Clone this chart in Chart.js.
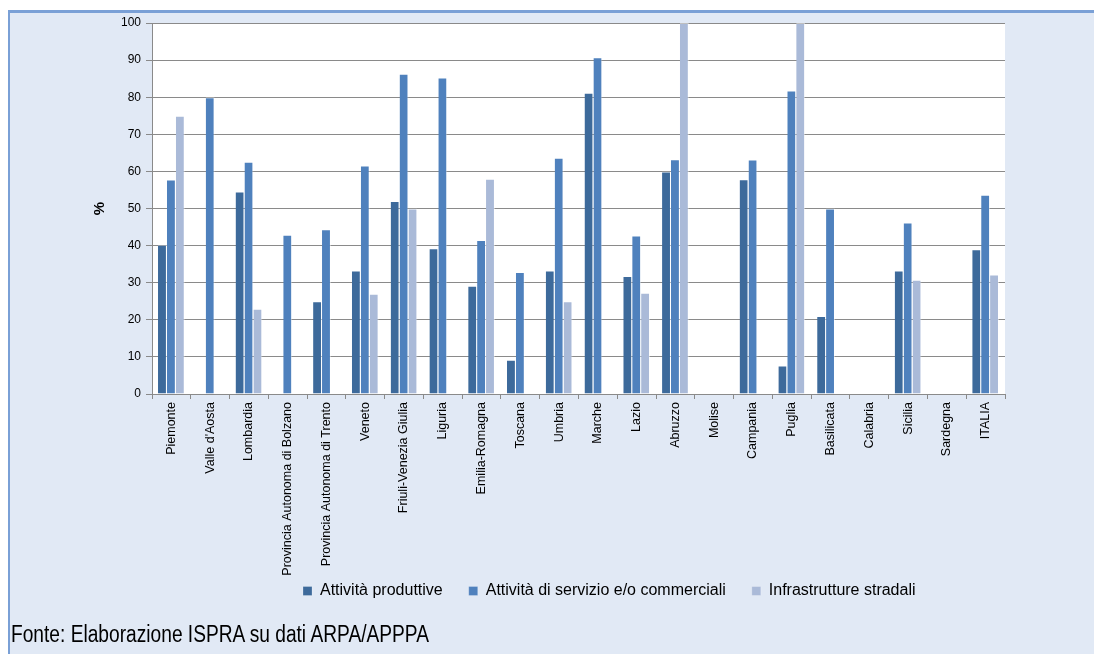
<!DOCTYPE html>
<html>
<head>
<meta charset="utf-8">
<script src="https://cdn.jsdelivr.net/npm/chart.js@4/dist/chart.umd.min.js"></script>
<style>
  html, body { margin: 0; padding: 0; background: #ffffff; }
  body { width: 1094px; height: 654px; position: relative; overflow: hidden; font-family: "Liberation Sans", Arial, sans-serif; }
  #panel { position: absolute; left: 8px; top: 10px; right: 0; bottom: 0; background: #e1e9f5; border-left: 2px solid #7aa0d6; border-top: 3px solid #7aa0d6; }
  #wrap { position: absolute; left: 0; top: 0; width: 1094px; height: 631px; }
  #fonte { position: absolute; left: 11px; top: 623px; font-family: "Liberation Sans", Arial, sans-serif; font-size: 23.5px; line-height: 1; color: #000; white-space: nowrap; transform-origin: 0 0; }
</style>
</head>
<body>
<div id="panel"></div>
<div id="wrap"><canvas id="c" width="1094" height="631"></canvas></div>
<div id="fonte">Fonte: Elaborazione ISPRA su dati ARPA/APPPA</div>
<script>
const categories = ["Piemonte", "Valle d'Aosta", "Lombardia", "Provincia Autonoma di Bolzano", "Provincia Autonoma di Trento", "Veneto", "Friuli-Venezia Giulia", "Liguria", "Emilia-Romagna", "Toscana", "Umbria", "Marche", "Lazio", "Abruzzo", "Molise", "Campania", "Puglia", "Basilicata", "Calabria", "Sicilia", "Sardegna", "ITALIA"];
const attivitaProduttive = [40.2, null, 54.6, null, 25.0, 33.3, 52.0, 39.3, 29.2, 9.2, 33.3, 81.2, 31.8, 60.0, null, 57.9, 7.7, 21.0, null, 33.3, null, 39.0];
const attivitaServizio   = [57.8, 80.0, 62.6, 42.9, 44.4, 61.6, 86.3, 85.3, 41.5, 32.9, 63.7, 90.8, 42.7, 63.3, null, 63.2, 81.8, 50.0, null, 46.2, null, 53.7];
const infrastrutture     = [75.0, null, 23.0, null, null, 27.0, 50.0, null, 58.0, null, 25.0, null, 27.3, 100.0, null, null, 100.0, null, null, 30.8, null, 32.2];
const seriesNames = ["Attività produttive", "Attività di servizio e/o commerciali", "Infrastrutture stradali"];
const yTicks = [0, 10, 20, 30, 40, 50, 60, 70, 80, 90, 100];

const colors = ["#3d6a9b", "#4f81bd", "#aabad8"];
const GRID = "#8a8a8a";

// condense the source line like the narrow font of the original
(function () {
  const f = document.getElementById('fonte');
  const w = f.getBoundingClientRect().width;
  f.style.transform = 'scaleX(' + (418 / w) + ')';
})();

const plotBg = {
  id: 'plotBg',
  beforeDraw(chart) {
    const {ctx, chartArea: a} = chart;
    ctx.save();
    ctx.fillStyle = '#ffffff';
    ctx.fillRect(a.left, a.top, a.right - a.left, a.bottom - a.top);
    ctx.restore();
  }
};
const legendPlace = {
  id: 'legendPlace',
  afterLayout(chart) {
    const lg = chart.legend;
    const w = lg.right - lg.left;
    const h = lg.bottom - lg.top;
    lg.left = 277; lg.right = 277 + w;
    lg.top = 557; lg.bottom = 557 + h;
  }
};

function ds(label, data, color) {
  return {
    label, data,
    backgroundColor: color,
    borderColor: 'rgba(255,255,255,0.45)',
    borderWidth: {top: 1, right: 1, left: 0, bottom: 0},
    borderSkipped: false,
    categoryPercentage: 0.69,
    barPercentage: 1.0
  };
}

new Chart(document.getElementById('c'), {
  type: 'bar',
  data: {
    labels: categories,
    datasets: [
      ds(seriesNames[0], attivitaProduttive, colors[0]),
      ds(seriesNames[1], attivitaServizio, colors[1]),
      ds(seriesNames[2], infrastrutture, colors[2])
    ]
  },
  options: {
    responsive: false,
    animation: false,
    layout: { padding: { top: 23, right: 89, left: 0, bottom: 0 } },
    plugins: {
      tooltip: { enabled: false },
      legend: {
        position: 'bottom',
        align: 'start',
        labels: {
          boxWidth: 9, boxHeight: 9, padding: 26,
          color: '#000',
          font: { family: '"Liberation Sans", Arial, sans-serif', size: 16 }
        }
      }
    },
    scales: {
      x: {
        afterFit(scale) { scale.height = 185; },
        grid: { display: true, drawOnChartArea: false, drawTicks: true, tickLength: 5, color: GRID, offset: true },
        border: { display: true, color: GRID },
        ticks: {
          autoSkip: false, minRotation: 90, maxRotation: 90, padding: 3,
          color: '#000',
          font: { family: '"Liberation Sans", Arial, sans-serif', size: 12.5 }
        }
      },
      y: {
        min: 0, max: 100,
        afterFit(scale) { scale.width = 152; },
        afterBuildTicks(scale) { scale.ticks = yTicks.map(v => ({ value: v })); },
        grid: { color: GRID, tickLength: 6, drawTicks: true },
        border: { display: true, color: GRID },
        title: {
          display: true, text: '%', color: '#000',
          font: { family: '"Liberation Sans", Arial, sans-serif', size: 15, weight: 'bold' },
          padding: { top: 91, bottom: 0 }
        },
        ticks: {
          padding: 5, color: '#000',
          font: { family: '"Liberation Sans", Arial, sans-serif', size: 12 }
        }
      }
    }
  },
  plugins: [plotBg, legendPlace]
});
</script>
</body>
</html>
